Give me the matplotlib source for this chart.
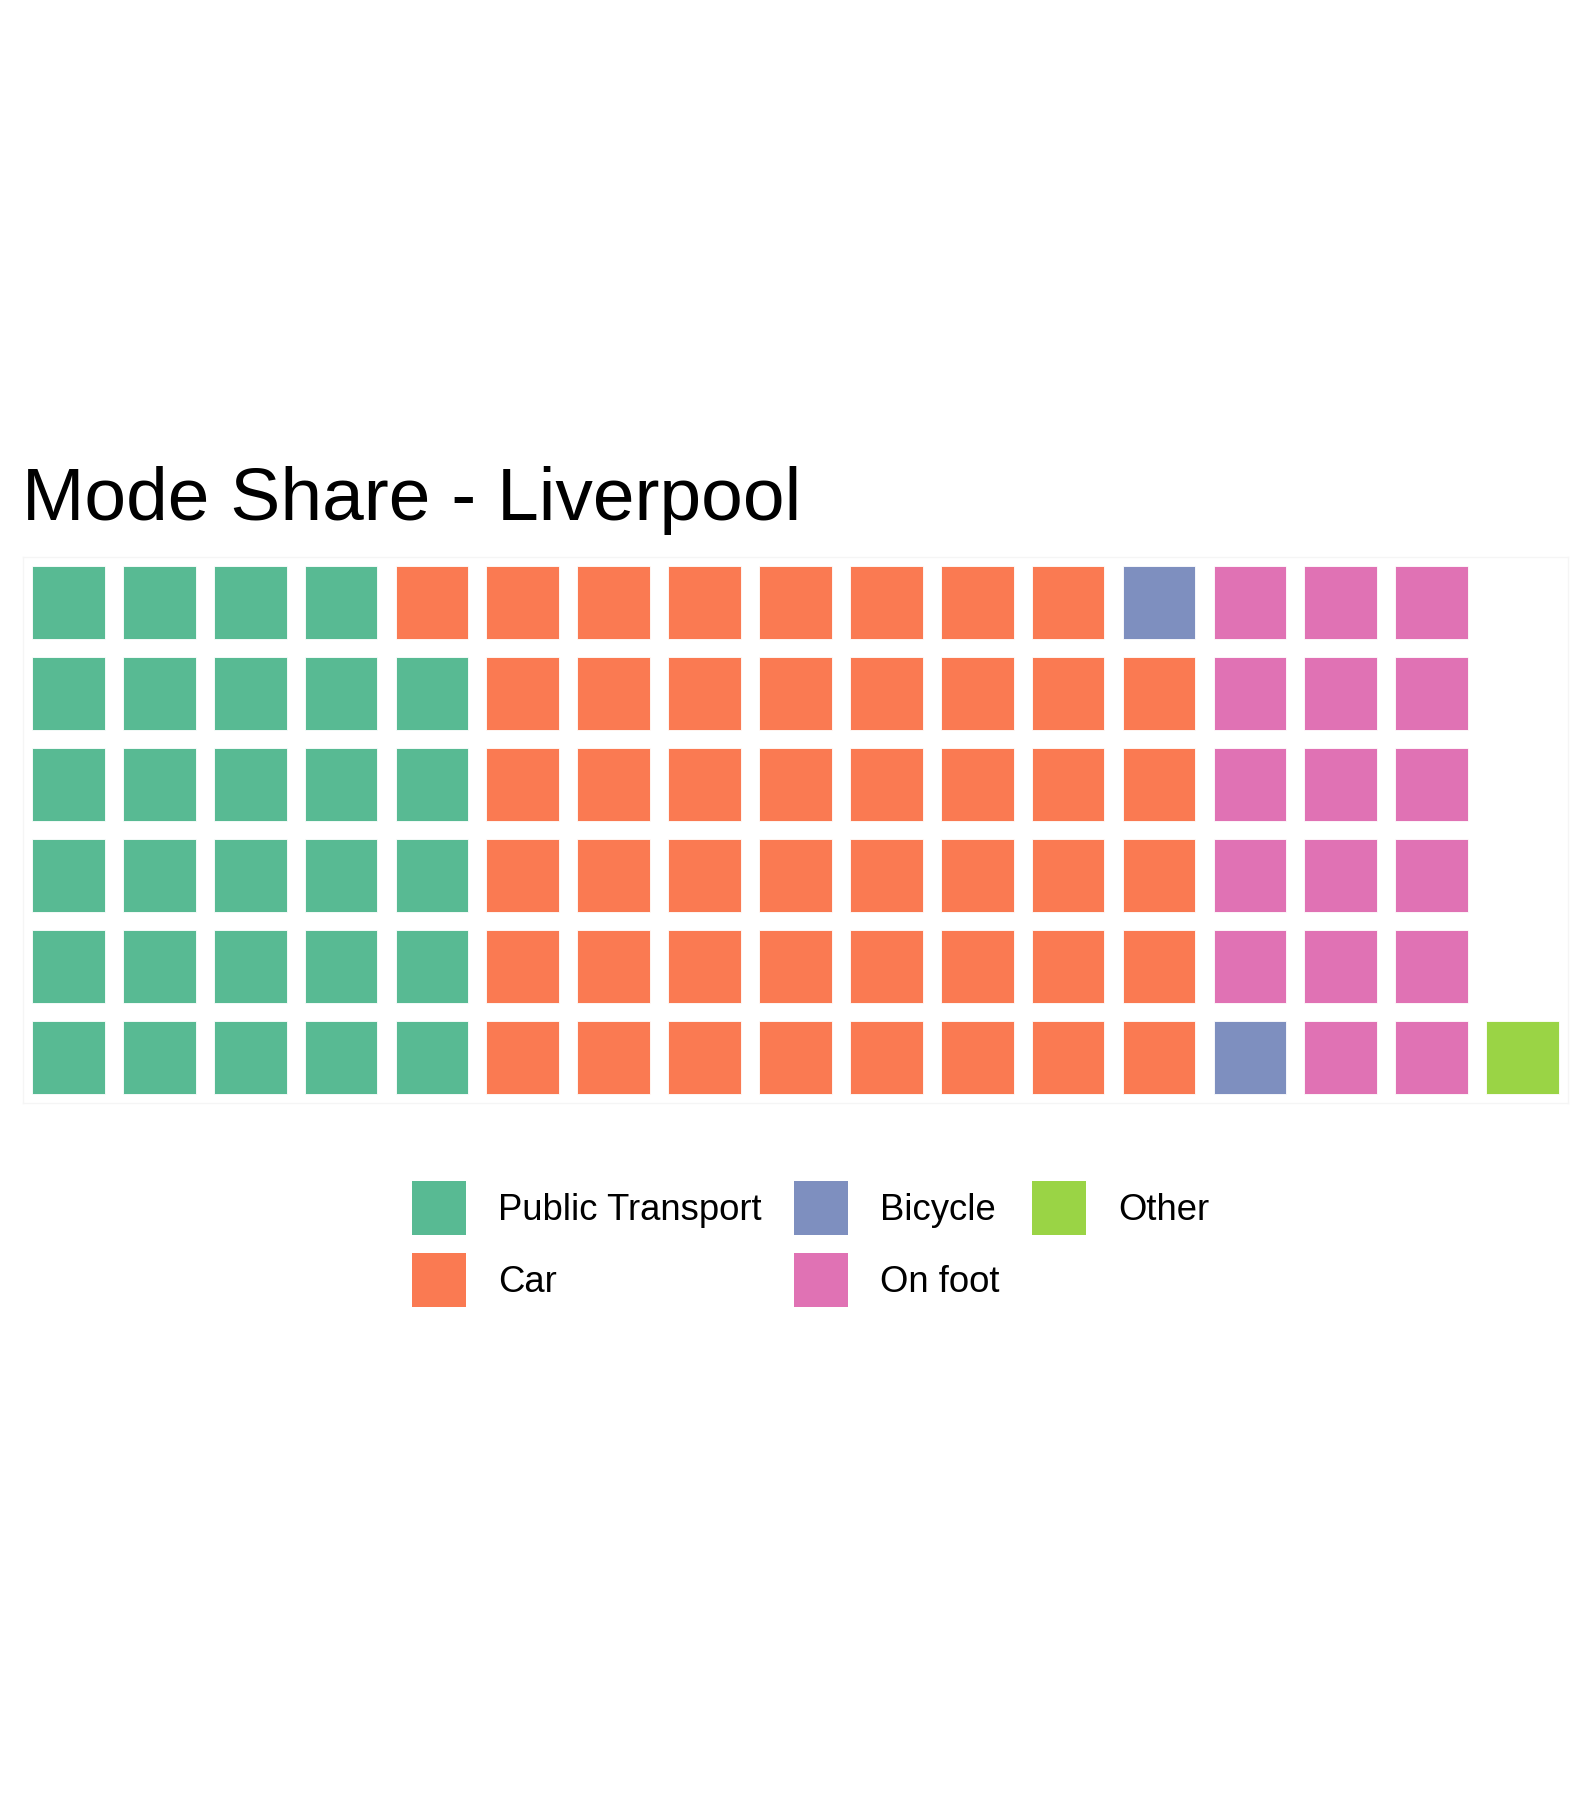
import numpy as np
import matplotlib
matplotlib.use("Agg")
import matplotlib.pyplot as plt
from matplotlib.patches import Rectangle, Patch

# data: tiles per mode (one tile ~ one percent)
modes = ["Public Transport", "Car", "Bicycle", "On foot", "Other"]
counts = [29, 48, 2, 17, 1]
colors = ["#58BA93", "#FA7A52", "#7E8FBF", "#E072B4", "#9AD445"]
n_rows = 6

W, H = 1591, 1804
plt.rcParams['font.family'] = ['Liberation Sans', 'DejaVu Sans']
fig = plt.figure(figsize=(W / 100, H / 100), dpi=100)

# panel placed in pixel terms
ax = fig.add_axes([23 / W, 1 - 1103 / H, (1568 - 23) / W, (1103 - 557) / H])

# fill the grid column by column, bottom to top
labels = np.repeat(np.arange(len(modes)), counts)
n_cols = int(np.ceil(len(labels) / n_rows))
tile = 0.8
for i, k in enumerate(labels):
    col = i // n_rows + 1
    row = i % n_rows + 1
    ax.add_patch(Rectangle((col - tile / 2, row - tile / 2), tile, tile,
                           facecolor=colors[k], edgecolor='white',
                           linewidth=0.6))

ax.set_xlim(0.5, n_cols + 0.5)
ax.set_ylim(0.5, n_rows + 0.5)
ax.set_xticks([])
ax.set_yticks([])
for s in ax.spines.values():
    s.set_color('#F5F5F5')
    s.set_linewidth(1)

fig.text(22 / W, 1 - 520 / H, "Mode Share - Liverpool", fontsize=54,
         va='baseline', ha='left', color='black')

handles = [Patch(facecolor=c, edgecolor='none') for c in colors]
fig.legend(handles, modes, ncol=3, loc='upper left',
           bbox_to_anchor=(412 / W, 1 - 1181 / H), frameon=False,
           fontsize=26.3, handlelength=1.48, handleheight=1.9,
           handletextpad=0.88, columnspacing=0.88, labelspacing=0.5,
           borderpad=0, borderaxespad=0)

fig.savefig("out.png", dpi=100, facecolor='white')
